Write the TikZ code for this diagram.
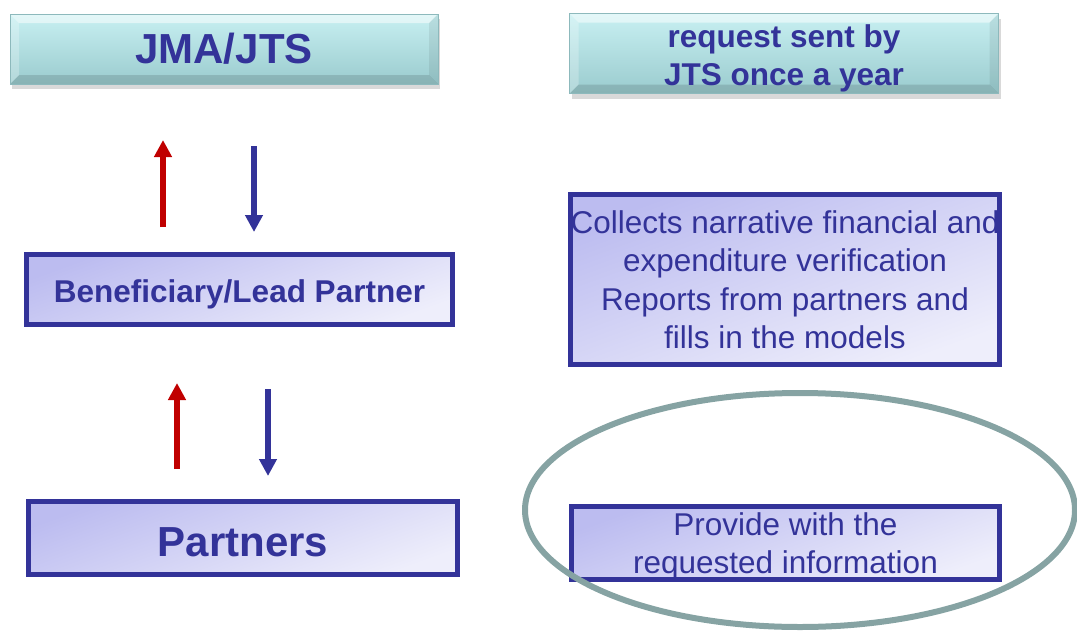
\documentclass[tikz,border=0pt]{standalone}
\usepackage{fontspec}
\setmainfont{Liberation Sans}
\usepackage{tikz}
\usetikzlibrary{arrows.meta,shadows}

\definecolor{txtblue}{HTML}{333399}
\definecolor{upred}{HTML}{C00000}
\definecolor{ringgray}{HTML}{86A3A3}
\definecolor{tealtop}{HTML}{C8F0F2}
\definecolor{tealbot}{HTML}{9ACBCE}
\definecolor{tealedge}{HTML}{8DB9BC}
\definecolor{lavdark}{HTML}{BCBCF0}
\definecolor{lavlight}{HTML}{EEEEFB}

\tikzset{bevel/.style={path picture={
  \coordinate (bnw) at (path picture bounding box.north west);
  \coordinate (bne) at (path picture bounding box.north east);
  \coordinate (bsw) at (path picture bounding box.south west);
  \coordinate (bse) at (path picture bounding box.south east);
  \fill[white,opacity=.5] (bnw) -- (bne) -- ([shift={(-9pt,-9pt)}]bne) -- ([shift={(9pt,-9pt)}]bnw) -- cycle;
  \fill[black,opacity=.12] (bsw) -- (bse) -- ([shift={(-9pt,9pt)}]bse) -- ([shift={(9pt,9pt)}]bsw) -- cycle;
  \fill[white,opacity=.25] (bnw) -- ([shift={(9pt,-9pt)}]bnw) -- ([shift={(9pt,9pt)}]bsw) -- (bsw) -- cycle;
  \fill[black,opacity=.07] (bne) -- ([shift={(-9pt,-9pt)}]bne) -- ([shift={(-9pt,9pt)}]bse) -- (bse) -- cycle;
}}}

\begin{document}
\begin{tikzpicture}[x=1pt,y=-1pt,>={Triangle[width=17pt,length=17pt]}]
  \tikzstyle{head}=[draw=tealedge,line width=0.8pt,top color=tealtop,bottom color=tealbot,bevel,
    drop shadow={shadow xshift=2pt,shadow yshift=-5pt,opacity=.3},
    inner sep=0pt,text=txtblue,font=\bfseries,align=center]
  \tikzstyle{task}=[draw=txtblue,line width=5pt,top color=lavdark,bottom color=lavlight,shading angle=20,
    inner sep=0pt,text=txtblue,align=center]
  \tikzstyle{redarrow}=[->,upred,line width=6pt]
  \tikzstyle{bluearrow}=[->,txtblue,line width=6pt]

  \useasboundingbox (0,0) rectangle (1077,632);

  % left column
  \node[head,minimum width=428pt,minimum height=70pt,font=\bfseries\fontsize{42}{46}\selectfont] (jma) at (224,49) {JMA/JTS};
  \node[task,minimum width=426pt,minimum height=70pt,text height=33pt,text depth=6.6pt,font=\bfseries\fontsize{31.5}{38}\selectfont] (ben) at (239.5,289.5) {Beneficiary/Lead Partner};
  \node[task,minimum width=429pt,minimum height=73pt,text height=36pt,text depth=0pt,font=\bfseries\fontsize{42}{46}\selectfont] (par) at (243,538) {Partners};

  % right column
  \node[head,minimum width=429pt,minimum height=80pt,font=\bfseries\fontsize{31.5}{37.5}\selectfont] (req) at (784,53.5) {\rule{0pt}{33pt}request sent by\\JTS once a year};
  \node[task,minimum width=429pt,minimum height=170pt,inner xsep=-3pt,font=\fontsize{31.5}{38.5}\selectfont] (col) at (785,279.5)
    {Collects narrative financial and\\expenditure verification\\Reports from partners and\\fills in the models};
  \node[task,minimum width=428pt,minimum height=72pt,font=\fontsize{31.5}{38}\selectfont] (pro) at (785.5,543) {\rule{0pt}{29pt}Provide with the\\requested information};

  % flows between the levels
  \coordinate (r1a) at (163,227); \coordinate (r1b) at (163,140);
  \coordinate (b1a) at (254,146); \coordinate (b1b) at (254,232);
  \coordinate (r2a) at (177,469); \coordinate (r2b) at (177,383);
  \coordinate (b2a) at (268,389); \coordinate (b2b) at (268,476);
  \draw[redarrow] (r1a) -- (r1b);
  \draw[bluearrow] (b1a) -- (b1b);
  \draw[redarrow] (r2a) -- (r2b);
  \draw[bluearrow] (b2a) -- (b2b);

  \draw[ringgray,line width=6pt] (800,510) ellipse [x radius=275pt,y radius=117pt];
\end{tikzpicture}
\end{document}
